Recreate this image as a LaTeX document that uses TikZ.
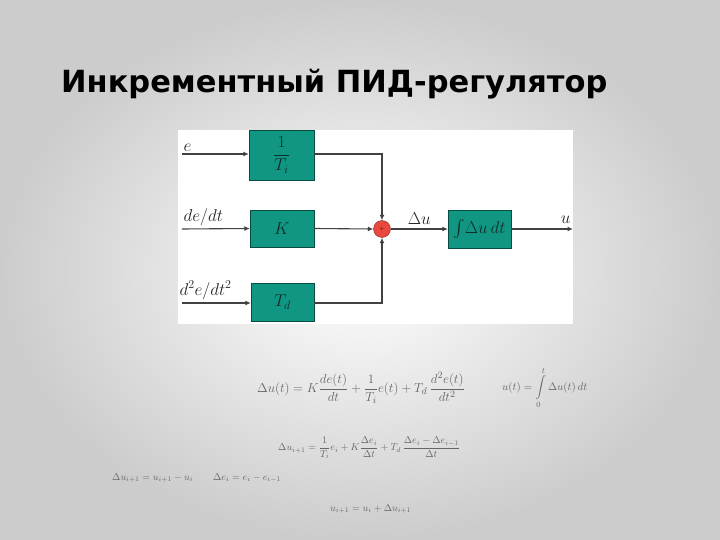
\documentclass[tikz,border=0pt]{standalone}
\usepackage{amsmath}
\usepackage{graphicx}
\usepackage{fontspec}
\setmainfont{Liberation Sans}
\newfontfamily\titlefont{DejaVu Sans}
\usetikzlibrary{positioning,calc,arrows.meta}

\definecolor{boxgreen}{RGB}{16,150,130}
\definecolor{boxtext}{RGB}{15,45,42}
\definecolor{sumred}{RGB}{232,72,62}
\definecolor{wire}{RGB}{65,65,65}

\begin{document}
\begin{tikzpicture}[x=1bp,y=-1bp]
 \useasboundingbox (0,0) rectangle (720,540);

\tikzstyle{block}=[draw=black!50!boxgreen,fill=boxgreen,inner sep=0pt,text=boxtext,font=\fontsize{17}{19}\selectfont]
\tikzstyle{wire}=[draw=wire,line width=1.1bp]
\tikzstyle{sig}=[wire,-{Latex[length=5.5bp,width=5bp]}]
\tikzstyle{lab}=[font=\fontsize{17}{19}\selectfont,inner sep=0pt,text=black!85]
\tikzstyle{eq}=[font=\fontsize{10}{12}\selectfont,text=black!60,inner sep=0pt]

   %slide background
    \shade[inner color=white,outer color=black!20] (0,0) rectangle (720,540);

   \node (title) [anchor=base west,inner sep=0pt,font=\titlefont\fontsize{30.6}{36}\selectfont\bfseries] at (61,93) {Инкрементный ПИД-регулятор};

   %white panel of the scheme
    \fill[white] (178,130) rectangle (573,324);

   \node (Ti) [block,minimum width=65bp,minimum height=50bp] at (281.5,155) {$\dfrac{1}{T_i}$};
   \node (K)  [block,minimum width=64bp,minimum height=37bp] at (282,228.5) {$K$};
   \node (Td) [block,minimum width=63bp,minimum height=38bp] at (282.5,302) {$T_d$};
   \node (S)  [circle,draw=black!40!sumred,fill=sumred,minimum size=17bp,inner sep=0pt,font=\tiny] at (382,229) {$+$};
   \node (I)  [block,minimum width=63bp,minimum height=38bp] at (479.5,229) {$\int\!\Delta u\,dt$};

   \coordinate (in_e) at (182,154);
   \coordinate (in_de) at (182,229);
   \coordinate (in_dde) at (182,303);
   \coordinate (out_u) at (573,229);

    \draw[sig] (in_e) -- (in_e -| Ti.west) node[pos=0.03,above right=2bp and -1bp,lab] {$e$};
    \draw[sig] (in_de) -- (K.west) node[pos=0.03,above right=3bp and -1bp,lab] {$de/dt$};
    \draw[sig] (in_dde) -- (in_dde -| Td.west) node[pos=0.0,above right=3bp and -3bp,lab] {$d^2e/dt^2$};

    \draw[sig] (Ti.east |- in_e) -| (S.north);
    \draw[sig] (K.east) -- (S.west);
    \draw[sig] (Td.east |- in_dde) -| (S.south);
    \draw[sig] (S.east) -- (I.west) node[midway,above=4bp,lab] {$\Delta u$};
    \draw[sig] (I.east) -- (out_u) node[pos=0.88,above=5bp,lab] {$u$};

   %formulas
    \node (f1) [eq,anchor=west,font=\fontsize{12.5}{14}\selectfont] at (257,388) {\scalebox{1.09}{$\Delta u(t)=K\dfrac{de(t)}{dt}+\dfrac{1}{T_i}e(t)+T_d\,\dfrac{d^2e(t)}{dt^2}$}};
    \node (f2) [eq,anchor=west,font=\fontsize{11}{13}\selectfont] at (502,388) {$u(t)=\displaystyle\int\limits_0^t\Delta u(t)\,dt$};
    \node (f3) [eq,anchor=west] at (278,448) {$\Delta u_{i+1}=\dfrac{1}{T_i}e_i+K\dfrac{\Delta e_i}{\Delta t}+T_d\,\dfrac{\Delta e_i-\Delta e_{i-1}}{\Delta t}$};
    \node (f4) [eq,anchor=west] at (112,478) {$\Delta u_{i+1}=u_{i+1}-u_i\qquad\Delta e_i=e_i-e_{i-1}$};
    \node (f5) [eq,anchor=west] at (330,509) {$u_{i+1}=u_i+\Delta u_{i+1}$};

\end{tikzpicture}
\end{document}
